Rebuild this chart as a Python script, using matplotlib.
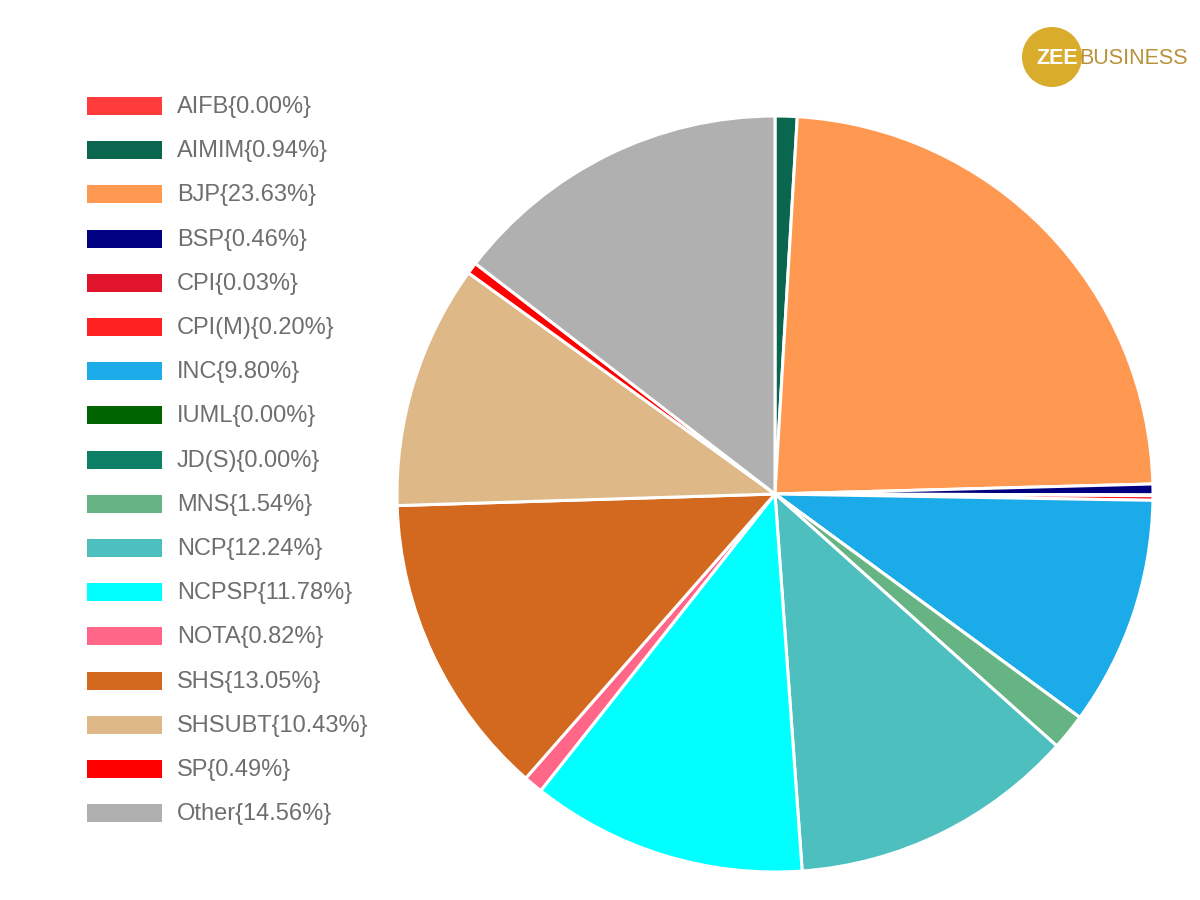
import matplotlib.pyplot as plt
from matplotlib.patches import Rectangle, Circle

# --- Data ---
parties = ["AIFB", "AIMIM", "BJP", "BSP", "CPI", "CPI(M)", "INC", "IUML", "JD(S)",
           "MNS", "NCP", "NCPSP", "NOTA", "SHS", "SHSUBT", "SP", "Other"]
shares = [0.00, 0.94, 23.63, 0.46, 0.03, 0.20, 9.80, 0.00, 0.00,
          1.54, 12.24, 11.78, 0.82, 13.05, 10.43, 0.49, 14.56]
colors = ["#ff3b3b", "#0b6650", "#ff9850", "#000080", "#e0142a", "#ff2020", "#1aabe8",
          "#006400", "#0e8066", "#66b383", "#4dbfbf", "#00ffff", "#ff6688", "#d2691e",
          "#deb887", "#ff0000", "#b0b0b0"]

fig = plt.figure(figsize=(12, 9), dpi=100)
fig.patch.set_facecolor("white")

# --- Pie ---
ax = fig.add_axes([397 / 1200, (900 - 494 - 378) / 900, 756 / 1200, 756 / 900])
ax.pie(shares, colors=colors, startangle=90, counterclock=False, radius=1,
       wedgeprops=dict(edgecolor="white", linewidth=2.2))
ax.set_xlim(-1.0, 1.0)
ax.set_ylim(-1.0, 1.0)
ax.set_aspect("equal")
ax.axis("off")

# --- Legend (manual) ---
y0, step = 106, 44.2
for i, (name, val, col) in enumerate(zip(parties, shares, colors)):
    yc = y0 + i * step
    fig.patches.append(Rectangle((87 / 1200, 1 - (yc + 9) / 900), 75 / 1200, 18 / 900,
                                 transform=fig.transFigure, facecolor=col,
                                 edgecolor="none"))
    fig.text(177 / 1200, 1 - (yc + 1) / 900, f"{name}{{{val:.2f}%}}", fontsize=17,
             family="Liberation Sans", color="#6e6e6e", va="center", ha="left")

# --- Logo ---
ax_logo = fig.add_axes([0, 0, 1, 1], facecolor="none")
ax_logo.axis("off")
ax_logo.set_xlim(0, 1200)
ax_logo.set_ylim(900, 0)
ax_logo.add_patch(Circle((1052, 57), 30, facecolor="#d9ac2c", edgecolor="none"))
ax_logo.text(1036, 58, "ZEE", fontsize=15.5, family="Liberation Sans", weight="bold",
             color="white", va="center", ha="left")
ax_logo.text(1079, 58, "BUSINESS", fontsize=15.5, family="Liberation Sans",
             color="#b8923a", va="center", ha="left")

fig.savefig("out.png", dpi=100)
